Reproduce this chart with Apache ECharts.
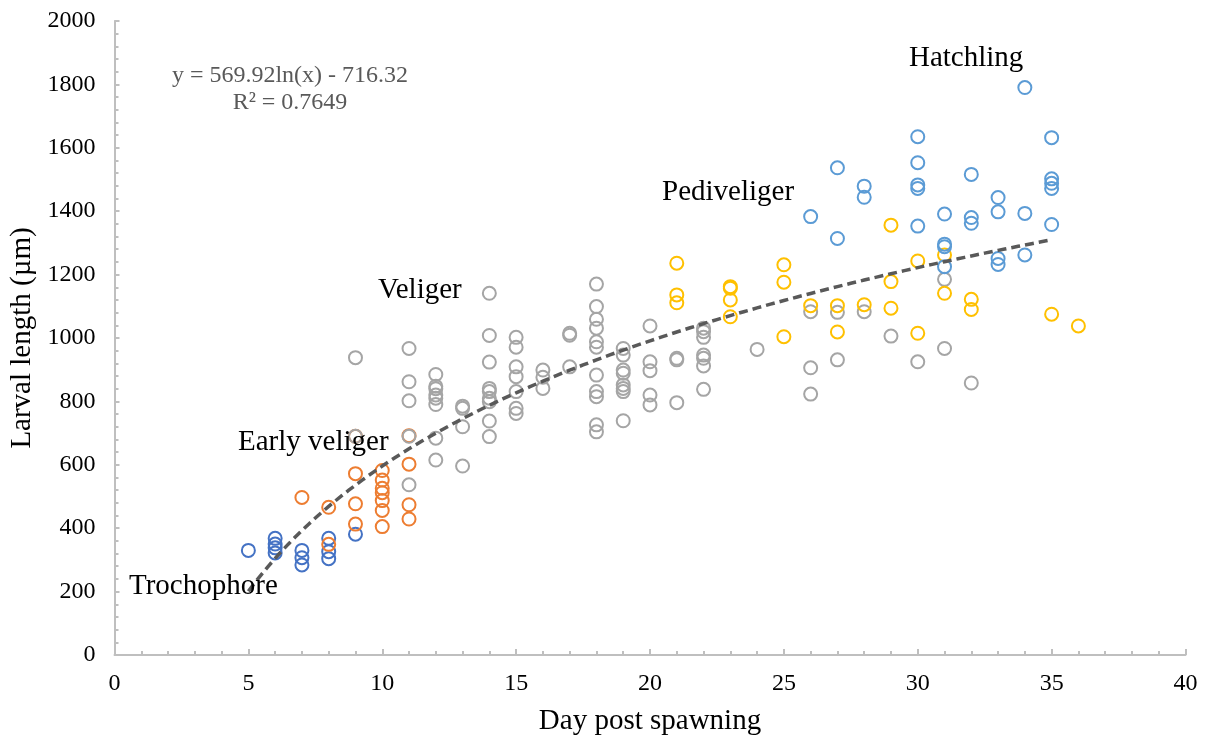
<!DOCTYPE html>
<html>
<head>
<meta charset="utf-8">
<title>Larval length by day post spawning</title>
<script src="https://cdn.jsdelivr.net/npm/echarts@6/dist/echarts.min.js"></script>
<style>
  html, body { margin: 0; padding: 0; background: #ffffff; }
  #chart { width: 1211px; height: 738px; }
</style>
</head>
<body>
<div id="chart"></div>
<script>
// Larval length (µm) measured on each day post spawning, grouped by stage: [day, length]
const trochophore = [
  [5, 330], [6, 368], [6, 350], [6, 338], [6, 322],
  [7, 330], [7, 307], [7, 284], [8, 368], [8, 326], [8, 304], [9, 381]
];
const earlyVeliger = [
  [7, 497], [8, 466], [8, 349],
  [9, 690], [9, 572], [9, 477], [9, 413],
  [10, 582], [10, 552], [10, 526], [10, 512], [10, 487], [10, 456], [10, 405],
  [11, 692], [11, 602], [11, 474], [11, 429]
];
const veliger = [
  [9, 938], [9, 690],
  [11, 967], [11, 862], [11, 802], [11, 690], [11, 537],
  [12, 885], [12, 848], [12, 840], [12, 820], [12, 810], [12, 790], [12, 684], [12, 615],
  [13, 785], [13, 778], [13, 720], [13, 596],
  [14, 1141], [14, 1008], [14, 924], [14, 841], [14, 831], [14, 810], [14, 799], [14, 738], [14, 689],
  [15, 1002], [15, 971], [15, 909], [15, 878], [15, 831], [15, 778], [15, 762],
  [16, 899], [16, 876], [16, 841],
  [17, 1015], [17, 1009], [17, 909],
  [18, 1170], [18, 1099], [18, 1059], [18, 1031], [18, 988], [18, 971], [18, 883], [18, 831], [18, 815], [18, 726], [18, 704],
  [19, 967], [19, 946], [19, 899], [19, 889], [19, 852], [19, 841], [19, 831], [19, 739],
  [20, 1038], [20, 925], [20, 897], [20, 820], [20, 789],
  [21, 936], [21, 931], [21, 796],
  [22, 1031], [22, 1020], [22, 1002], [22, 946], [22, 936], [22, 912], [22, 838],
  [24, 964],
  [26, 1083], [26, 906], [26, 823],
  [27, 1081], [27, 931],
  [28, 1083], [29, 1006], [30, 925],
  [31, 1185], [31, 967], [32, 858]
];
const pediveliger = [
  [21, 1236], [21, 1136], [21, 1111],
  [23, 1162], [23, 1157], [23, 1120], [23, 1067],
  [25, 1231], [25, 1176], [25, 1004],
  [26, 1102], [27, 1102], [27, 1019], [28, 1105],
  [29, 1356], [29, 1178], [29, 1094],
  [30, 1243], [30, 1015],
  [31, 1262], [31, 1141],
  [32, 1122], [32, 1090],
  [35, 1075], [36, 1038]
];
const hatchling = [
  [26, 1383], [27, 1537], [27, 1314], [28, 1479], [28, 1444],
  [30, 1635], [30, 1553], [30, 1483], [30, 1472], [30, 1353],
  [31, 1391], [31, 1296], [31, 1288], [31, 1225],
  [32, 1516], [32, 1380], [32, 1362],
  [33, 1443], [33, 1398], [33, 1251], [33, 1232],
  [34, 1790], [34, 1393], [34, 1262],
  [35, 1632], [35, 1502], [35, 1488], [35, 1472], [35, 1358]
];

// Logarithmic trendline as printed on the chart: y = a ln(x) + b
const trendA = 569.92;
const trendB = -716.32;
const trendDays = [5, 35];
const trendText = ['y = 569.92ln(x) - 716.32', 'R\u00b2 = 0.7649'];

// Axis ranges and tick spacing
const xRange = [0, 40, 5];
const yRange = [0, 2000, 200];

// Stage labels
const stageNames = ['Trochophore', 'Early veliger', 'Veliger', 'Pediveliger', 'Hatchling'];

const serif = "'Liberation Serif', 'Times New Roman', serif";
const axisGray = '#BFBFBF';

const trendLine = [];
for (let d = trendDays[0]; d <= trendDays[1] + 1e-9; d += 0.25) {
  trendLine.push([d, trendA * Math.log(d) + trendB]);
}

// Open circles with no fill, so overlapping points stay visible
function stageSeries(name, data, color) {
  return {
    name: name,
    type: 'scatter',
    data: data,
    symbol: 'circle',
    symbolSize: 13,
    itemStyle: { color: 'rgba(255,255,255,0)', borderColor: color, borderWidth: 2, opacity: 1 },
    emphasis: { disabled: true },
    z: 2
  };
}

const chart = echarts.init(document.getElementById('chart'), null, { renderer: 'canvas' });

const labelText = (text, x, y, size, color, align) => ({
  type: 'text',
  x: x,
  y: y,
  z: 10,
  style: {
    text: text,
    font: size + 'px ' + serif,
    fill: color,
    align: align || 'left',
    verticalAlign: 'middle',
    textAlign: align || 'left',
    textVerticalAlign: 'middle'
  }
});

const plainNumber = (v) => String(v);

chart.setOption({
  animation: false,
  backgroundColor: '#ffffff',
  grid: {
    left: 114.5, right: 25.5, top: 21, bottom: 83,
    outerBoundsMode: 'none'
  },
  xAxis: {
    type: 'value',
    min: xRange[0], max: xRange[1], interval: xRange[2],
    name: 'Day post spawning',
    nameLocation: 'middle',
    nameGap: 52,
    nameTextStyle: { fontFamily: serif, fontSize: 29, color: '#000000' },
    axisLine: { show: true, lineStyle: { color: axisGray, width: 2 } },
    axisTick: { show: true, inside: true, length: 6, lineStyle: { color: axisGray, width: 2 } },
    minorTick: { show: true, splitNumber: 5, length: 4, lineStyle: { color: axisGray, width: 2 } },
    axisLabel: { fontFamily: serif, fontSize: 24, color: '#000000', margin: 17, formatter: plainNumber },
    splitLine: { show: false },
    minorSplitLine: { show: false }
  },
  yAxis: {
    type: 'value',
    min: yRange[0], max: yRange[1], interval: yRange[2],
    name: 'Larval length (\u00b5m)',
    nameLocation: 'middle',
    nameGap: 65,
    nameTextStyle: { fontFamily: serif, fontSize: 29, color: '#000000' },
    axisLine: { show: true, lineStyle: { color: axisGray, width: 2 } },
    axisTick: { show: true, inside: true, length: 5, lineStyle: { color: axisGray, width: 2 } },
    minorTick: { show: true, splitNumber: 5, length: 4, lineStyle: { color: axisGray, width: 2 } },
    axisLabel: { fontFamily: serif, fontSize: 24, color: '#000000', margin: 19, formatter: plainNumber },
    splitLine: { show: false },
    minorSplitLine: { show: false }
  },
  series: [
    stageSeries(stageNames[0], trochophore, '#4472C4'),
    stageSeries(stageNames[1], earlyVeliger, '#ED7D31'),
    stageSeries(stageNames[2], veliger, '#A5A5A5'),
    stageSeries(stageNames[3], pediveliger, '#FFC000'),
    stageSeries(stageNames[4], hatchling, '#5B9BD5'),
    {
      name: 'Log trend',
      type: 'line',
      data: trendLine,
      showSymbol: false,
      symbol: 'none',
      smooth: false,
      lineStyle: { color: '#595959', width: 3.5, type: [9, 5] },
      emphasis: { disabled: true },
      z: 5
    }
  ],
  graphic: [
    labelText(trendText[0], 290, 76, 24, '#595959', 'center'),
    labelText(trendText[1], 290, 103, 24, '#595959', 'center'),
    labelText(stageNames[4], 909, 58, 29, '#000000'),
    labelText(stageNames[3], 662, 192, 29, '#000000'),
    labelText(stageNames[2], 378, 290, 29, '#000000'),
    labelText(stageNames[1], 238, 442, 29, '#000000'),
    labelText(stageNames[0], 129, 586, 29, '#000000')
  ]
});
</script>
</body>
</html>
